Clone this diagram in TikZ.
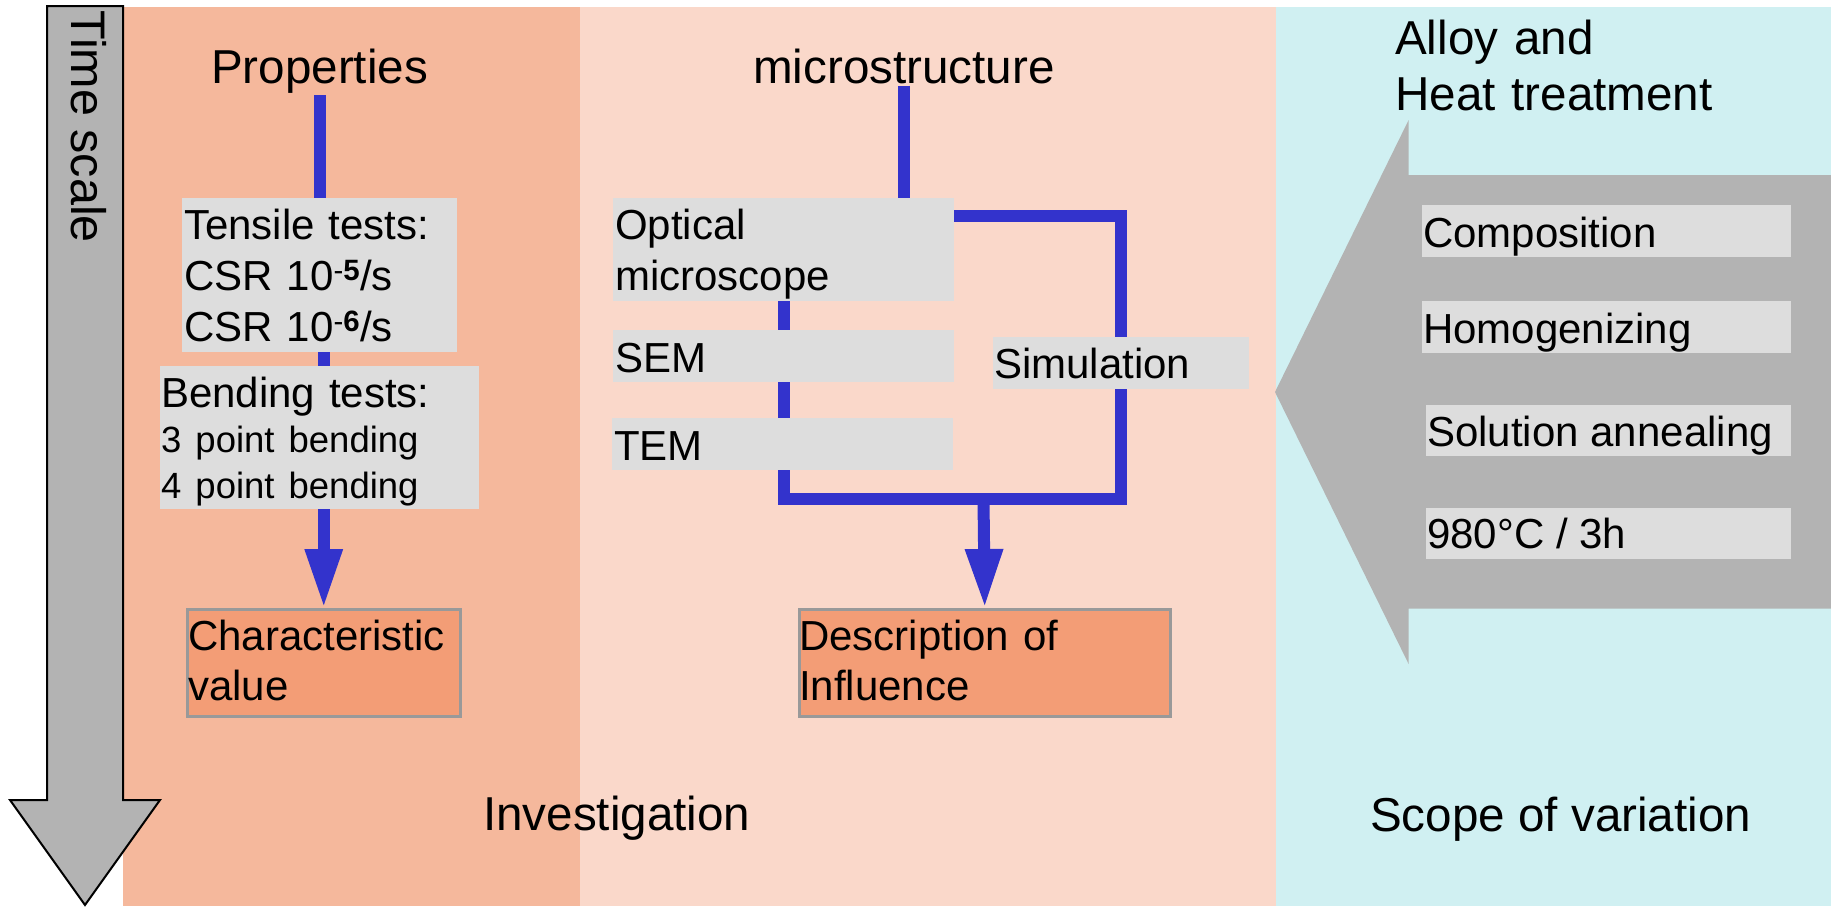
\documentclass[tikz,border=0pt]{standalone}
\usepackage{fontspec}
\setmainfont{Liberation Sans}
\usetikzlibrary{arrows.meta}
\definecolor{panelA}{HTML}{F5B89C}
\definecolor{panelB}{HTML}{FAD8CA}
\definecolor{panelC}{HTML}{D0F0F2}
\definecolor{linkblue}{HTML}{3333CC}
\definecolor{boxgray}{HTML}{DDDDDD}
\definecolor{arrowgray}{HTML}{B3B3B3}
\definecolor{resultfill}{HTML}{F39D76}
\definecolor{resultedge}{HTML}{999999}
\tikzset{
  bigtext/.style={font=\fontsize{47.6}{55.5}\selectfont, inner sep=0pt, align=left},
  boxtext/.style={font=\fontsize{42}{51}\selectfont, inner sep=0pt, align=left, anchor=base west},
  graybox/.style={fill=boxgray, inner sep=0pt, anchor=north west},
  resultbox/.style={fill=resultfill, draw=resultedge, line width=2.5pt, inner sep=0pt, anchor=north west},
  conn/.style={draw=linkblue, line width=12pt},
  arrowconn/.style={conn, -{Triangle[length=59pt,width=35pt]}},
}
\begin{document}
\begin{tikzpicture}[x=1pt,y=-1pt]
\useasboundingbox (0,0) rectangle (1831,906);

% background bands
\fill[panelA] (123,7) rectangle (580,906);
\fill[panelB] (580,7) rectangle (1276,906);
\fill[panelC] (1276,7) rectangle (1831,906);

% time axis arrow
\draw[fill=arrowgray, line width=2pt] (47,6) -- (123,6) -- (123,800) -- (160,800)
  -- (85,905) -- (10,800) -- (47,800) -- cycle;
\node[bigtext, font=\fontsize{48.5}{55}\selectfont, rotate=-90, anchor=base west] (timescale) at (71,10) {Time scale};

% variation arrow pointing left
\fill[arrowgray] (1275,392) -- (1408.6,120) -- (1408.6,175) -- (1831,175)
  -- (1831,608.5) -- (1408.6,608.5) -- (1408.6,664) -- cycle;

% headings
\node[bigtext, anchor=base] (props) at (319.5,83) {Properties};
\node[bigtext, anchor=base] (micro) at (904,83) {microstructure};
\node[bigtext, anchor=base west, text width=400pt] (alloy) at (1395,54.5) {Alloy and\\Heat treatment};
\node[bigtext, anchor=base west] (invest) at (483,830) {Investigation};
\node[bigtext, anchor=base west] (scope) at (1370,831) {Scope of variation};

% properties column
\node[graybox, minimum width=274.6pt, minimum height=154pt] (tensile) at (182,198) {};
\node[boxtext, text width=270pt] (tensiletext) at (184,239)
  {Tensile tests:\\CSR 10\textsuperscript{-\textbf{5}}/s\\CSR 10\textsuperscript{-\textbf{6}}/s};
\node[graybox, minimum width=319pt, minimum height=143pt] (bend) at (160,366) {};
\node[boxtext, text width=316pt, font=\fontsize{42}{45.5}\selectfont] (bendtext) at (161,407)
  {Bending tests:\\{\fontsize{36.5}{45.5}\selectfont 3 point bending\\4 point bending}};
\node[resultbox, minimum width=273pt, minimum height=107pt] (charval) at (186,608) {};
\node[boxtext, text width=270pt, font=\fontsize{42}{50}\selectfont] (charvaltext) at (188,650)
  {Characteristic\\value};

% microstructure column
\node[graybox, minimum width=341pt, minimum height=103pt] (optical) at (613,198) {};
\node[boxtext, text width=336pt] (opticaltext) at (615,239) {Optical\\microscope};
\node[graybox, minimum width=341pt, minimum height=52pt] (sem) at (613,330) {};
\node[boxtext] (semtext) at (615,372) {SEM};
\node[graybox, minimum width=341pt, minimum height=52pt] (tem) at (612,418) {};
\node[boxtext] (temtext) at (614,460) {TEM};
\node[graybox, minimum width=256pt, minimum height=52pt] (sim) at (992.5,337) {};
\node[boxtext] (simtext) at (994,378) {Simulation};
\node[resultbox, minimum width=371pt, minimum height=107pt] (desc) at (798,608) {};
\node[boxtext, text width=366pt, font=\fontsize{42}{50}\selectfont] (desctext) at (799,650)
  {Description of\\Influence};

% variation parameters
\node[graybox, minimum width=368.6pt, minimum height=52pt] (comp) at (1422,205) {};
\node[boxtext] (comptext) at (1423,247) {Composition};
\node[graybox, minimum width=368.6pt, minimum height=52pt] (homog) at (1422,301) {};
\node[boxtext] (homogtext) at (1423,343) {Homogenizing};
\node[graybox, minimum width=364.6pt, minimum height=51pt] (solann) at (1426,405) {};
\node[boxtext] (solanntext) at (1427,446) {Solution annealing};
\node[graybox, minimum width=364.6pt, minimum height=51pt] (temp) at (1426,507.6) {};
\node[boxtext] (temptext) at (1427,548) {980°C / 3h};

% connectors: properties
\draw[conn] ([yshift=-2pt]props.south) -- (props.south |- tensile.north);
\draw[conn] (tensile.south -| charval.north) -- (bend.north -| charval.north);
\draw[arrowconn] (bend.south -| charval.north) -- (charval.north);

% connectors: microstructure
\coordinate (merge) at (983.5,499);
\draw[conn] ([yshift=-2pt]micro.south) -- (micro.south |- optical.north);
\draw[conn] ([yshift=-17.5pt]optical.north east) -| (sim.north);
\draw[conn] (optical.south) -- (sem.north);
\draw[conn] (sem.south) -- (tem.north -| sem.south);
\draw[conn] (tem.south -| sem.south) |- (merge) -| (sim.south);
\draw[arrowconn] (merge) -- (desc.north);
\end{tikzpicture}
\end{document}
